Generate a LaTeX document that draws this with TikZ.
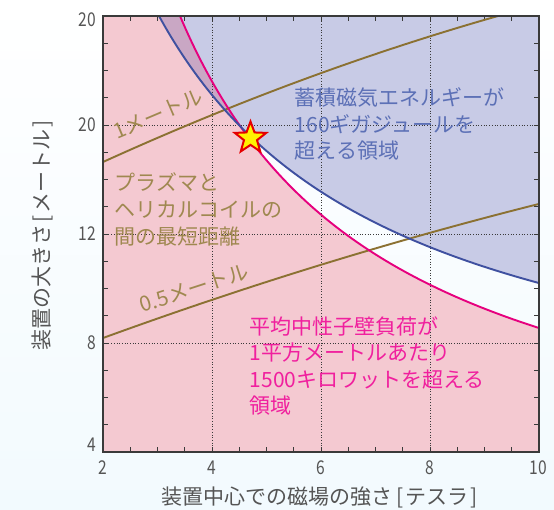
\documentclass[tikz,border=0pt]{standalone}
\usepackage{fontspec}
\setmainfont{Noto Sans CJK JP}
\newfontfamily\numfont[FakeStretch=0.82]{Noto Sans CJK JP}
\usetikzlibrary{shapes.geometric}
\definecolor{bgbot}{HTML}{F2FAFE}
\definecolor{pinkfill}{HTML}{F4C9D1}
\definecolor{bluefill}{HTML}{C8CBE6}
\definecolor{mauvefill}{HTML}{C9A7C4}
\definecolor{bluecurve}{HTML}{3F50A0}
\definecolor{magcurve}{HTML}{E6007E}
\definecolor{browncurve}{HTML}{8B7132}
\definecolor{browntext}{HTML}{9F8850}
\definecolor{bluetext}{HTML}{5C70B6}
\definecolor{magtext}{HTML}{F0209E}
\definecolor{axisdark}{HTML}{3A3A3A}
\definecolor{labeltext}{HTML}{555555}
\tikzset{
  curveline/.style={line width=1.9pt},
  griddot/.style={draw=axisdark,line width=0.8pt,dash pattern=on 1pt off 1.7pt},
  tickmark/.style={draw=axisdark,line width=0.8pt},
  ticklab/.style={font=\fontsize{19}{19}\selectfont\numfont,text=labeltext,inner sep=0pt},
  axislab/.style={font=\fontsize{21}{21}\selectfont,text=labeltext,inner sep=0pt},
  regionlab/.style={align=left,anchor=west,inner sep=0pt,font=\fontsize{21}{26.6}\selectfont},
  rotlab/.style={text=browntext,inner sep=0pt,font=\fontsize{21}{21}\selectfont},
  bluedom/.style={domain=159:539,samples=120},
  magdom/.style={domain=180:539,samples=120},
}
\def\bluecurvepath{plot[bluedom] (\x,{451-1039.65/((\x+80)/100)})}
\def\magcurvepath{plot[magdom] (\x,{510.6-1039.17/((\x+30.1)/100)})}
\begin{document}
\begin{tikzpicture}[x=1pt,y=-1pt]
\useasboundingbox (0,0) rectangle (554,509);
\shade[top color=white,bottom color=bgbot] (0,0) rectangle (554,509);
% regions
\fill[pinkfill] \magcurvepath -- (539,452) -- (103,452) -- (103,16) -- cycle;
\fill[bluefill] \bluecurvepath -- (539,16) -- cycle;
\begin{scope}
\clip \bluecurvepath -- (539,16) -- cycle;
\fill[mauvefill] \magcurvepath -- (539,452) -- (103,452) -- (103,16) -- cycle;
\end{scope}
% grid
\foreach \gx in {212,321,430} \draw[griddot] (\gx,16) -- (\gx,452);
\foreach \gy in {125,234,343} \draw[griddot] (103,\gy) -- (539,\gy);
% ticks
\foreach \k in {1,...,15} {
  \pgfmathsetmacro{\tx}{103+27.25*\k}
  \draw[tickmark] (\tx,16) -- (\tx,21);
  \draw[tickmark] (\tx,452) -- (\tx,447);
  \pgfmathsetmacro{\ty}{16+27.25*\k}
  \draw[tickmark] (103,\ty) -- (108,\ty);
  \draw[tickmark] (539,\ty) -- (534,\ty);
}
% curves
\draw[curveline,browncurve] plot[domain=103:498,samples=60] (\x,{162-0.4546*(\x-103)+2.15*((\x-103)/100)^2});
\draw[curveline,browncurve] plot[domain=103:539,samples=60] (\x,{338-0.3642*(\x-103)+1.3*((\x-103)/100)^2});
\draw[curveline,magcurve] \magcurvepath;
\draw[curveline,bluecurve] \bluecurvepath;
% frame
\draw[axisdark,line width=1.1pt] (103,16) rectangle (539,452);
% star
\node[star,star points=5,star point ratio=2.4,draw=red!90!black,fill=yellow,line width=2pt,minimum size=33pt,inner sep=0pt] (peak) at (250.5,138) {};
% tick labels
\node[ticklab] (x2) at (103,468) {2};
\node[ticklab] (x4) at (212,468) {4};
\node[ticklab] (x6) at (321,468) {6};
\node[ticklab] (x8) at (430,468) {8};
\node[ticklab] (x10) at (538,468) {10};
\node[ticklab,anchor=east] (y20a) at (96,20) {20};
\node[ticklab,anchor=east] (y20b) at (96,125) {20};
\node[ticklab,anchor=east] (y12) at (96,234) {12};
\node[ticklab,anchor=east] (y8) at (96,343) {8};
\node[ticklab,anchor=east] (y4) at (96,445) {4};
% axis labels
\node[axislab] (xlab) at (319.5,497) {装置中心での磁場の強さ\hspace{4pt}[\hspace{2pt}テスラ\hspace{2pt}]};
\node[axislab,rotate=90] (ylab) at (42,235) {装置の大きさ\hspace{2pt}[\hspace{2pt}メートル\hspace{2pt}]};
% region labels
\node[regionlab,text=bluetext] (bluelab) at (294.5,124) {蓄積磁気エネルギーが\\160ギガジュールを\\超える領域};
\node[regionlab,text=browntext] (brownlab) at (114.5,209.5) {プラズマと\\ヘリカルコイルの\\間の最短距離};
\node[regionlab,text=magtext] (maglab) at (249.5,366) {平均中性子壁負荷が\\1平方メートルあたり\\1500キロワットを超える\\領域};
\node[rotlab,rotate=23] (onem) at (158,114) {1メートル};
\node[rotlab,rotate=18] (halfm) at (194,288) {0.5メートル};
\end{tikzpicture}
\end{document}
